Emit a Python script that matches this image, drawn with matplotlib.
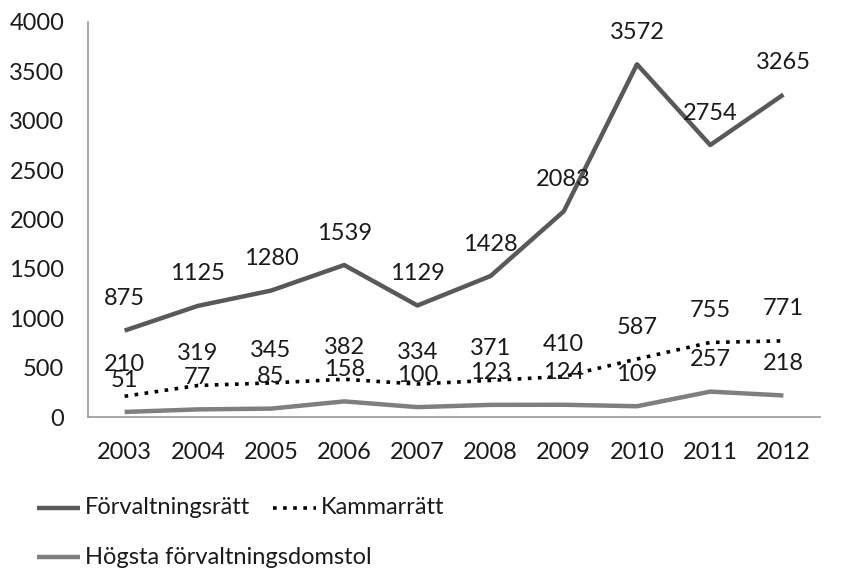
import matplotlib
matplotlib.use("Agg")
import matplotlib.pyplot as plt
from matplotlib.lines import Line2D

plt.rcParams['font.family'] = ['Lato', 'DejaVu Sans']

years = ['2003', '2004', '2005', '2006', '2007', '2008', '2009', '2010', '2011', '2012']
forvaltningsratt = [875, 1125, 1280, 1539, 1129, 1428, 2083, 3572, 2754, 3265]
kammarratt = [210, 319, 345, 382, 334, 371, 410, 587, 755, 771]
hogsta = [51, 77, 85, 158, 100, 123, 124, 109, 257, 218]
yticks = [0, 500, 1000, 1500, 2000, 2500, 3000, 3500, 4000]

series = [
    ('Förvaltningsrätt', forvaltningsratt, dict(color='#595959', lw=3.2, ls='-')),
    ('Kammarrätt', kammarratt, dict(color='#000000', lw=2.6, ls=(0, (1, 1.8)))),
    ('Högsta förvaltningsdomstol', hogsta, dict(color='#7f7f7f', lw=3.2, ls='-')),
]

fig = plt.figure(figsize=(8.42, 5.69), dpi=100)
ax = fig.add_axes([88/842, 1-417/569, (820-88)/842, (417-22)/569])
x = list(range(len(years)))
for name, vals, st in series:
    ax.plot(x, vals, solid_capstyle='butt', **st)
    for xi, v in zip(x, vals):
        ax.annotate(str(v), (xi, v), xytext=(0, 23), textcoords='offset points',
                    ha='center', va='center', fontsize=17, color='#1a1a1a')

ax.set_xlim(-0.5, len(years)-0.5)
ax.set_ylim(0, 4000)
ax.set_yticks(yticks)
ax.set_yticklabels([str(t) for t in yticks])
ax.set_xticks(x)
ax.set_xticklabels(years)
ax.tick_params(axis='both', length=0, labelsize=17, colors='#1a1a1a')
ax.tick_params(axis='y', pad=17)
ax.tick_params(axis='x', pad=18)
for s in ['top', 'right']:
    ax.spines[s].set_visible(False)
for s in ['left', 'bottom']:
    ax.spines[s].set_color('#999999')
    ax.spines[s].set_linewidth(1.2)

# legend
def leg(x0, y0, name, st):
    fig.add_artist(Line2D([x0/842, (x0+43)/842], [1-y0/569, 1-y0/569],
                          transform=fig.transFigure, solid_capstyle='butt', **st))
    fig.text((x0+48)/842, 1-y0/569, name, fontsize=17, va='center', ha='left', color='#1a1a1a')

leg(37, 508, series[0][0], series[0][2])
leg(273, 508, series[1][0], series[1][2])
leg(37, 557, series[2][0], series[2][2])

fig.savefig('out.png', dpi=100)
